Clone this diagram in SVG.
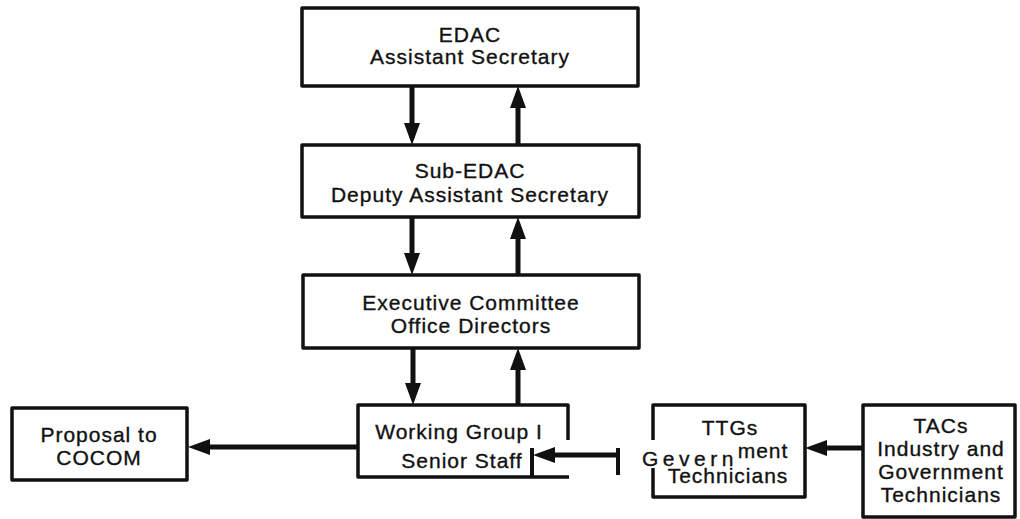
<svg xmlns="http://www.w3.org/2000/svg" width="1020" height="519" viewBox="0 0 1020 519">
<style>
.box{fill:#fff;stroke:#111;stroke-width:3.5;stroke-linejoin:round}
.open{fill:none;stroke:#111;stroke-width:3.5;stroke-linejoin:round}
.t{font-family:"Liberation Sans",Arial,Helvetica,sans-serif;font-size:21px;letter-spacing:1px;fill:#111;stroke:#111;stroke-width:0.35;text-anchor:middle}
.c{stroke:#111;stroke-width:5;fill:none;marker-end:url(#ah)}
</style>
<defs>
<marker id="ah" viewBox="0 0 22 16" markerWidth="22" markerHeight="16" refX="11" refY="8" orient="auto" markerUnits="userSpaceOnUse">
<path d="M0,0 L22,8 L0,16 z" fill="#111"/>
</marker>
</defs>
<rect width="1020" height="519" fill="#fff"/>
<g id="connectors">
<line class="c" x1="412" y1="87" x2="412" y2="134"/>
<line class="c" x1="518" y1="144" x2="518" y2="97"/>
<line class="c" x1="412" y1="218" x2="412" y2="264"/>
<line class="c" x1="518" y1="274" x2="518" y2="228"/>
<line class="c" x1="413" y1="349" x2="413" y2="394"/>
<line class="c" x1="518" y1="404" x2="518" y2="359"/>
<line class="c" x1="357" y1="447" x2="199" y2="447"/>
<line class="c" x1="618" y1="455" x2="544" y2="455"/>
<line x1="618" y1="448" x2="618" y2="475" stroke="#111" stroke-width="4"/>
<line class="c" x1="862" y1="448" x2="816" y2="448"/>
</g>
<g id="edac">
<rect class="box" x="302" y="8" width="336" height="78"/>
<text class="t" x="470" y="42">EDAC</text>
<text class="t" x="470" y="64">Assistant Secretary</text>
</g>
<g id="sub-edac">
<rect class="box" x="302" y="145" width="337" height="72"/>
<text class="t" x="470" y="178">Sub-EDAC</text>
<text class="t" x="470" y="202">Deputy Assistant Secretary</text>
</g>
<g id="executive-committee">
<rect class="box" x="303" y="275" width="336" height="73"/>
<text class="t" x="471" y="310">Executive Committee</text>
<text class="t" x="471" y="333">Office Directors</text>
</g>
<g id="proposal">
<rect class="box" x="12" y="408" width="175" height="72"/>
<text class="t" x="99" y="442">Proposal to</text>
<text class="t" x="99" y="465">COCOM</text>
</g>
<g id="working-group">
<path class="open" d="M568,440 V405 H358 V477 H569"/>
<line x1="532" y1="448" x2="532" y2="476" stroke="#111" stroke-width="4"/>
<text class="t" x="459" y="439">Working Group I</text>
<text class="t" x="462" y="468">Senior Staff</text>
</g>
<g id="ttgs">
<path class="open" d="M653,440 V405 H805 V497 H653 V468"/>
<text class="t" x="730" y="435">TTGs</text>
<text class="t" x="763" y="458">ment</text>
<text class="t" x="642" y="466" style="text-anchor:start;letter-spacing:4.5px">Gevern</text>
<text class="t" x="728" y="483">Technicians</text>
</g>
<g id="tacs">
<rect class="box" x="863" y="405" width="152" height="112"/>
<text class="t" x="941" y="433">TACs</text>
<text class="t" x="941" y="456">Industry and</text>
<text class="t" x="941" y="479">Government</text>
<text class="t" x="941" y="502">Technicians</text>
</g>
</svg>
